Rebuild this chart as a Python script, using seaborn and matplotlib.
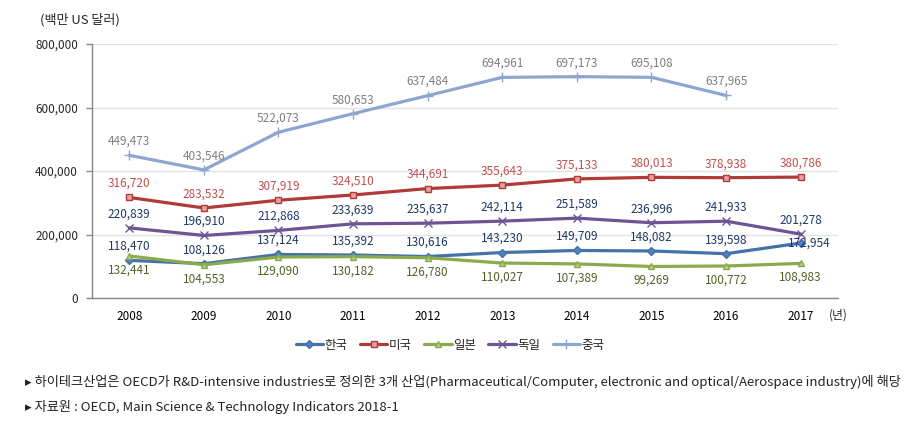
import numpy as np
import pandas as pd
import matplotlib
matplotlib.use("Agg")
import matplotlib.pyplot as plt
import seaborn as sns
from matplotlib.ticker import FuncFormatter, FixedLocator

# 데이터 (백만 US 달러)
years = ['2008', '2009', '2010', '2011', '2012', '2013', '2014', '2015', '2016', '2017']
korea = [118470, 108126, 137124, 135392, 130616, 143230, 149709, 148082, 139598, 172954]
usa = [316720, 283532, 307919, 324510, 344691, 355643, 375133, 380013, 378938, 380786]
japan = [132441, 104553, 129090, 130182, 126780, 110027, 107389, 99269, 100772, 108983]
germany = [220839, 196910, 212868, 233639, 235637, 242114, 251589, 236996, 241933, 201278]
china = [449473, 403546, 522073, 580653, 637484, 694961, 697173, 695108, 637965, np.nan]

names = ['한국', '미국', '일본', '독일', '중국']
note1 = '▸ 하이테크산업은 OECD가 R&D-intensive industries로 정의한 3개 산업(Pharmaceutical/Computer, electronic and optical/Aerospace industry)에 해당'
note2 = '▸ 자료원 : OECD, Main Science & Technology Indicators 2018-1'

sns.set_theme(style="white")
plt.rcParams['font.family'] = ['Noto Sans CJK KR', 'DejaVu Sans']

df = pd.DataFrame({'year': years, '한국': korea, '미국': usa, '일본': japan,
                   '독일': germany, '중국': china})
df['x'] = np.arange(len(years))

# 계열별 스타일: 선색, 마커, 마커면색, 라벨색, 라벨 위치(+위/-아래), 마커크기
estilos = {
    '한국': ('#4472A8', 'D', '#4F81BD', '#1F3864', 1, 4),
    '미국': ('#B03A36', 's', '#E6A0A0', '#C0504D', 1, 5),
    '일본': ('#8AAA4E', '^', '#B9D08A', '#4F6228', -1, 5),
    '독일': ('#6E5494', 'x', '#6E5494', '#1F3864', 1, 6),
    '중국': ('#8DA6D0', '+', '#8DA6D0', '#7F7F7F', 1, 7),
}

fig = plt.figure(figsize=(9.07, 4.32), dpi=100)
ax = fig.add_axes([0.1014, 0.3102, 0.8225, 0.5879])

for n in names:
    col, mk, fc, tcol, lado, ms = estilos[n]
    sns.lineplot(data=df, x='x', y=n, ax=ax, color=col, linewidth=2.3,
                 marker=mk, markersize=ms, markerfacecolor=fc,
                 markeredgecolor=col, markeredgewidth=1.0, label=n)
    for xi, v in zip(df['x'], df[n]):
        if np.isnan(v):
            continue
        off = (0, 14 * lado)
        # 2017 한국 라벨은 점 오른쪽 (원본과 같이)
        if n == '한국' and xi == len(years) - 1:
            off = (9, 0)
        ax.annotate(f'{int(v):,}', (xi, v), xytext=off, textcoords='offset pixels',
                    ha='center', va='center', fontsize=8.5, color=tcol)

ax.set_xlim(-0.5, len(years) - 0.5)
ax.set_ylim(0, 800000)
ax.yaxis.set_major_locator(FixedLocator([0, 200000, 400000, 600000, 800000]))
ax.yaxis.set_major_formatter(FuncFormatter(lambda v, p: f'{int(v):,}'))
ax.set_xticks(df['x'])
ax.set_xticklabels(years)
ax.set_xticks(np.arange(-0.5, len(years), 1.0), minor=True)
ax.tick_params(axis='x', which='major', length=0, pad=9, labelsize=8.5, colors='black')
ax.tick_params(axis='x', which='minor', length=4, color='#868686', width=1)
ax.tick_params(axis='y', which='major', length=4, color='#868686', width=1, pad=6,
               labelsize=8.5, left=True)
ax.set_xlabel('')
ax.set_ylabel('')
ax.grid(axis='y', color='#E3E3E3', linewidth=1)
for s in ['top', 'right']:
    ax.spines[s].set_visible(False)
for s in ['left', 'bottom']:
    ax.spines[s].set_color('#868686')
    ax.spines[s].set_linewidth(1)

fig.text(40 / 907, 1 - 20 / 432, '(백만 US 달러)', fontsize=9.4, ha='left', va='center')
fig.text(838 / 907, 1 - 315 / 432, '(년)', fontsize=8.5, ha='center', va='center')

ax.legend(loc='center', bbox_to_anchor=(450 / 907, 1 - 345 / 432),
          bbox_transform=fig.transFigure, ncol=5, frameon=False, fontsize=9,
          handlelength=2.2, handletextpad=0.1, columnspacing=1.0)

fig.text(25 / 907, 1 - 382 / 432, note1, fontsize=9.5, ha='left', va='center',
         color='#222222')
fig.text(25 / 907, 1 - 407 / 432, note2, fontsize=9.5, ha='left', va='center',
         color='#222222')

fig.savefig('out.png', dpi=100)
